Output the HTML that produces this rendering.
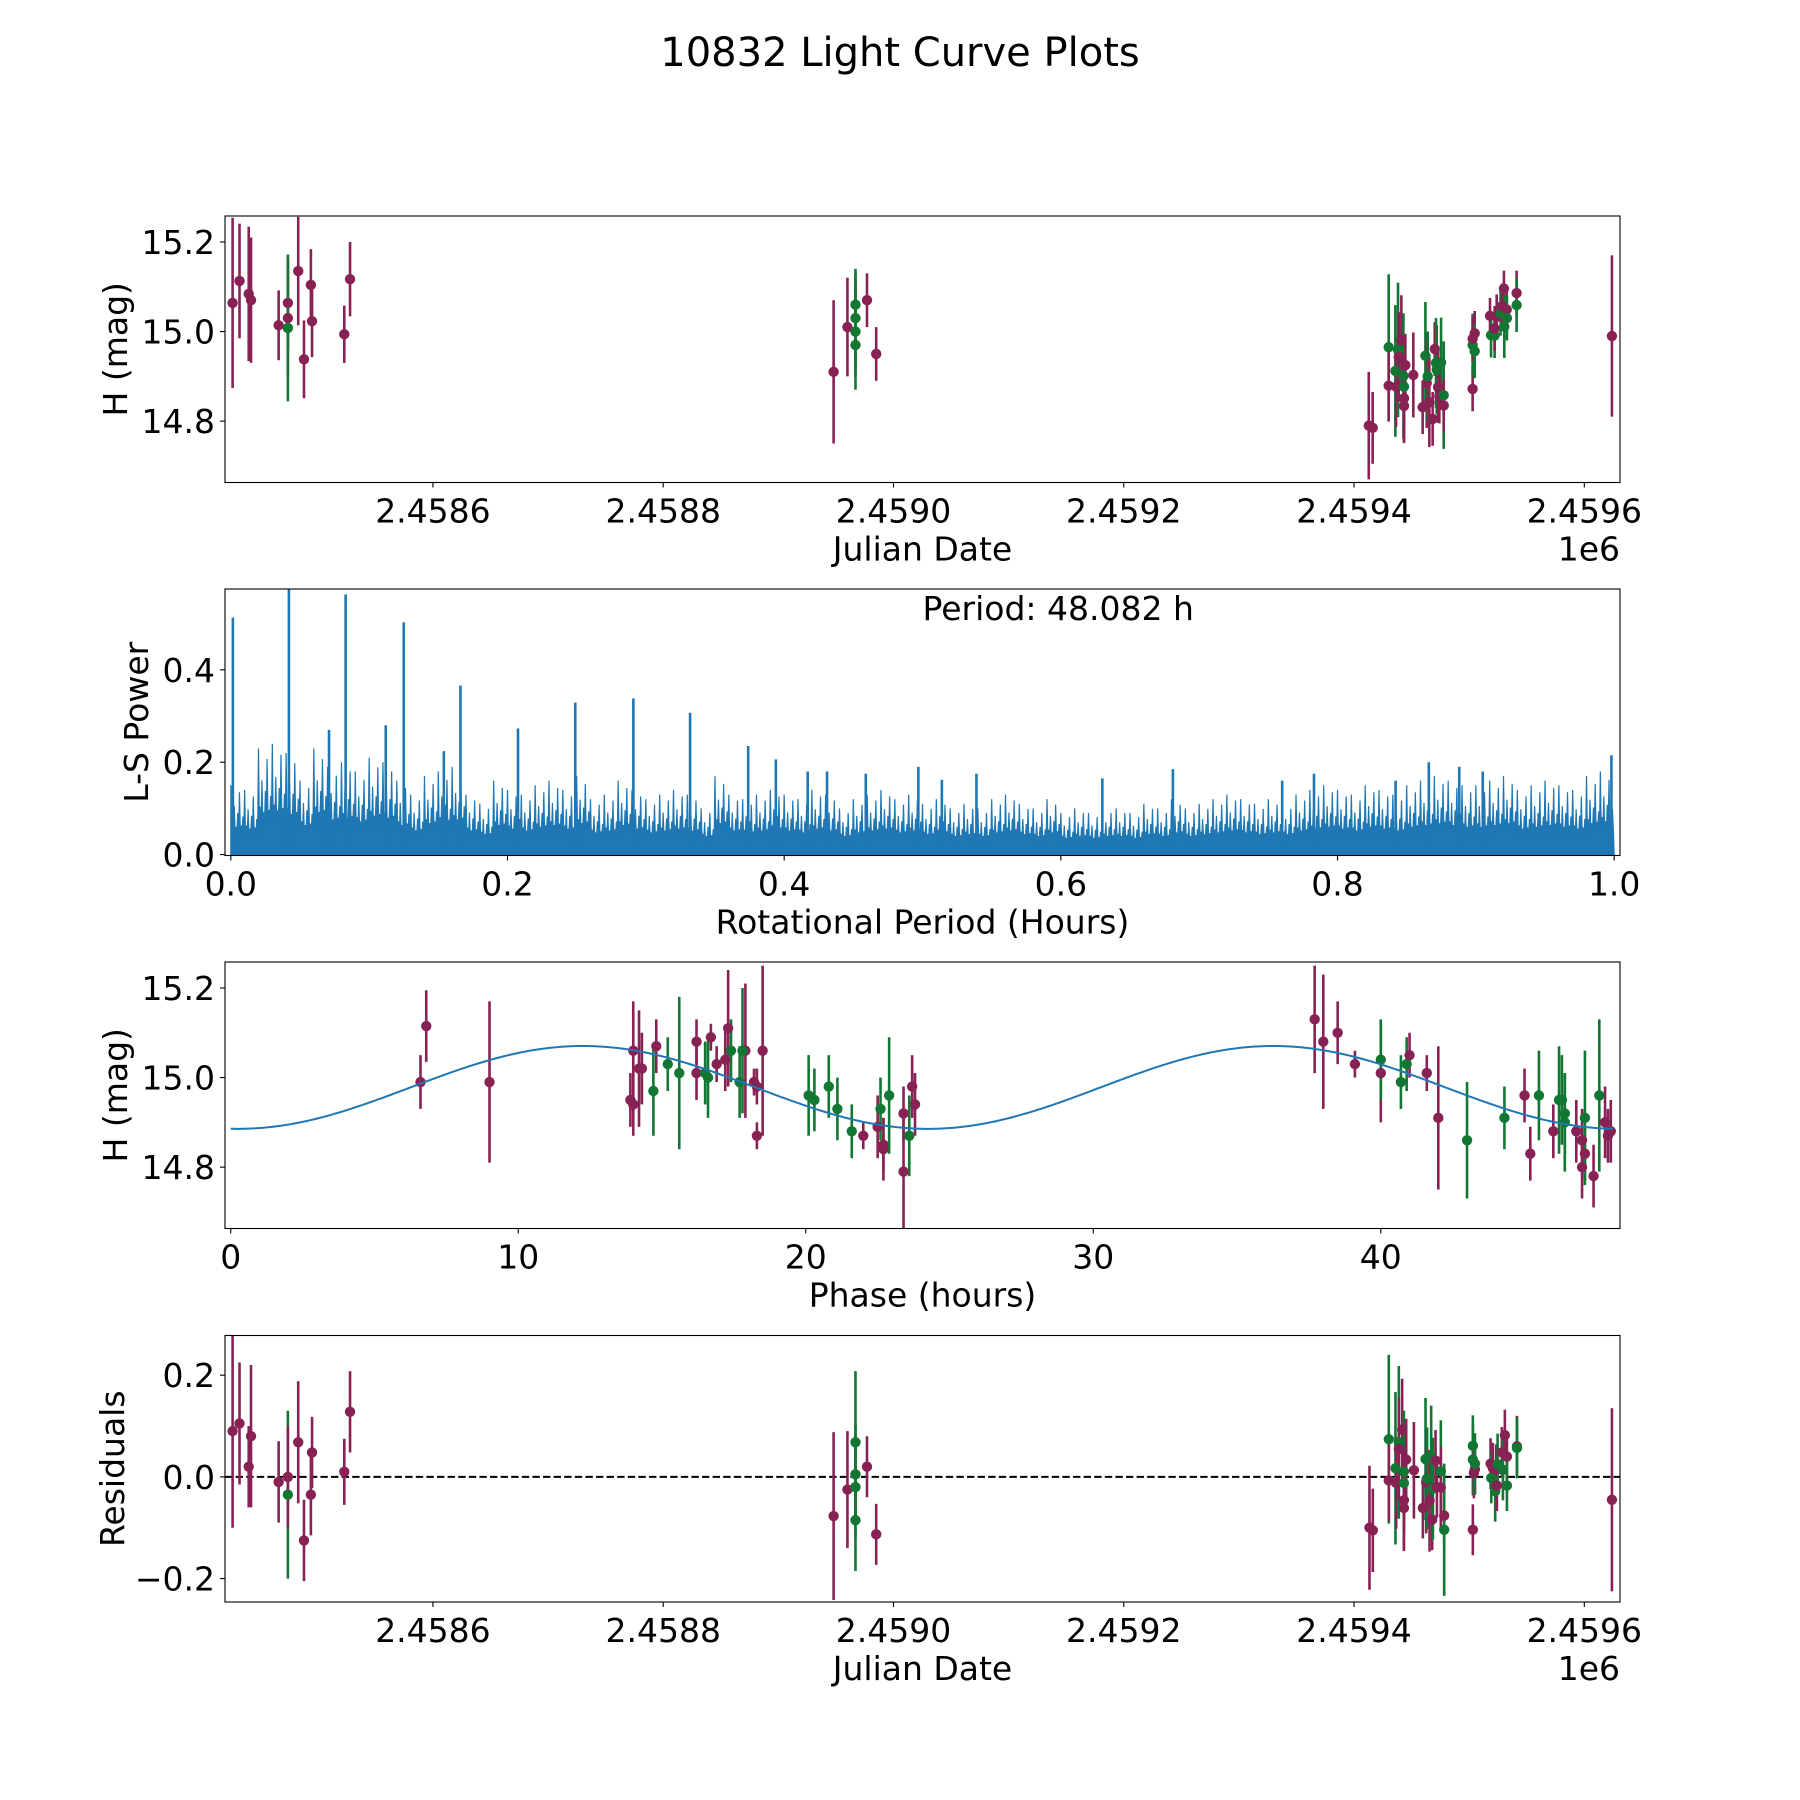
<!DOCTYPE html>
<html><head><meta charset="utf-8"><style>
html,body{margin:0;padding:0;background:#fff}
svg{display:block}
text{font-family:"DejaVu Sans","Liberation Sans",sans-serif;fill:#000}
</style></head><body>
<svg id="fig" width="1800" height="1800" viewBox="0 0 1800 1800" xmlns="http://www.w3.org/2000/svg">
<text x="900" y="66" font-size="40" text-anchor="middle">10832 Light Curve Plots</text>
</svg>
<script>
// ---------- Panel 1: light curve vs Julian Date (JD - 2458000) ----------
const p1Jd  = [426,432,440,442,466,474,474,474,483,488,494,495,523,528,
  948,960,967,967,967,967,977,985,
  1412.8,1416.2,1430.1,1430.1,1435.9,1436.5,1438.2,1438.8,1441.1,1442.9,1443.4,1443.4,1443.4,1444.6,1451.5,1459.6,1462,1463.1,1464,1465.4,1468.3,1470.1,1471.2,1471.8,1473,1475.6,1474.1,1477.9,1477.9,
  1503,1503,1503,1504.8,1504.8,1518.1,1519,1522.1,1522.1,1523.9,1527.3,1528.5,1530.2,1530.5,1532.6,1532.8,1541.2,1541.2,1624];
const p1Mag = [15.064,15.113,15.084,15.070,15.014,15.064,15.030,15.008,15.135,14.938,15.104,15.023,14.994,15.117,
  14.91,15.01,15.06,15.03,15.0,14.97,15.07,14.95,
  14.790,14.785,14.965,14.879,14.912,14.877,14.959,14.943,14.981,14.901,14.877,14.851,14.834,14.925,14.903,14.831,14.946,14.885,14.900,14.842,14.805,14.961,14.930,14.915,14.876,14.931,14.855,14.858,14.835,
  14.872,14.970,14.984,14.996,14.956,15.035,14.992,14.991,15.007,15.033,15.041,15.057,15.096,15.011,15.049,15.030,15.086,15.059,14.99];
const p1Err = [0.19,0.128,0.15,0.14,0.078,0.1,0.13,0.164,0.121,0.087,0.08,0.08,0.064,0.083,
  0.16,0.11,0.08,0.1,0.1,0.1,0.06,0.06,
  0.12,0.08,0.163,0.08,0.147,0.09,0.15,0.1,0.1,0.14,0.1,0.1,0.08,0.07,0.095,0.06,0.12,0.1,0.1,0.1,0.06,0.06,0.1,0.1,0.08,0.1,0.06,0.12,0.06,
  0.05,0.07,0.05,0.05,0.06,0.04,0.05,0.05,0.05,0.05,0.05,0.05,0.04,0.07,0.05,0.05,0.05,0.06,0.18];
const p1Col = ["p","p","p","p","p","p","p","g","p","p","p","p","p","p",
  "p","p","g","g","g","g","p","p",
  "p","p","g","p","g","p","g","p","p","g","g","p","p","p","p","p","g","p","g","p","p","p","g","g","p","g","p","g","p",
  "p","g","p","p","g","p","g","g","p","p","g","p","p","g","p","g","p","g","p"];

// ---------- Panel 2: Lomb-Scargle periodogram ----------
const lsEnvelope = [0.15,0.14,0.23,0.24,0.22,0.16,0.23,0.19,0.20,0.18,
  0.21,0.20,0.16,0.13,0.17,0.18,0.19,0.13,0.11,0.16,
  0.14,0.13,0.15,0.16,0.14,0.17,0.12,0.13,0.16,0.14,
  0.12,0.13,0.14,0.13,0.10,0.17,0.13,0.12,0.13,0.14,
  0.13,0.12,0.14,0.13,0.10,0.12,0.13,0.14,0.12,0.13,
  0.11,0.12,0.10,0.11,0.10,0.12,0.13,0.11,0.10,0.12,
  0.09,0.10,0.09,0.10,0.10,0.09,0.11,0.10,0.12,0.10,
  0.11,0.12,0.13,0.12,0.11,0.12,0.11,0.13,0.14,0.15,
  0.14,0.13,0.15,0.14,0.13,0.15,0.16,0.17,0.16,0.15,
  0.15,0.16,0.17,0.14,0.15,0.16,0.15,0.14,0.17,0.18];
const lsSpikePeriod = [0.0015,0.042,0.083,0.125,0.166,0.2076,0.249,0.291,0.332,0.374,0.071,0.112,0.154,0.394,0.417,0.431,0.459,0.497,0.514,0.539,0.63,0.681,0.76,0.783,0.842,0.866,0.888,0.905,0.998];
const lsSpikePower  = [0.513,0.58,0.563,0.503,0.366,0.273,0.329,0.338,0.307,0.235,0.27,0.28,0.224,0.206,0.18,0.18,0.175,0.19,0.162,0.175,0.165,0.185,0.16,0.175,0.16,0.2,0.19,0.18,0.215];
const periodLabel = "Period: 48.082 h";

// ---------- Panel 3: phased light curve ----------
const p3Phase = [6.6,6.8,9.0,13.9,14.0,14.0,14.2,14.3,14.7,14.8,15.2,15.6,16.2,16.2,16.5,16.6,16.7,16.9,17.2,17.3,17.4,17.7,17.9,17.8,18.2,18.3,18.3,18.5,
  20.1,20.3,20.8,21.1,21.6,22.0,22.5,22.6,22.7,22.7,22.9,23.4,23.4,23.6,23.7,23.8,
  37.7,38.0,38.5,39.1,40.0,40.0,40.7,40.9,41.0,41.6,42.0,43.0,44.3,45.0,45.2,45.5,46.0,46.2,46.3,46.4,46.4,46.8,47.0,47.1,47.1,47.0,47.4,47.6,47.8,47.9,48.0];
const p3Mag = [14.99,15.115,14.99,14.95,14.94,15.06,15.02,15.02,14.97,15.07,15.03,15.01,15.08,15.01,15.01,15.0,15.09,15.03,15.04,15.11,15.06,14.99,15.06,15.06,14.99,14.98,14.87,15.06,
  14.96,14.95,14.98,14.93,14.88,14.87,14.89,14.93,14.84,14.85,14.96,14.92,14.79,14.87,14.98,14.94,
  15.13,15.08,15.10,15.03,15.01,15.04,14.99,15.03,15.05,15.01,14.91,14.86,14.91,14.96,14.83,14.96,14.88,14.95,14.95,14.92,14.90,14.88,14.86,14.83,14.91,14.80,14.78,14.96,14.90,14.87,14.88];
const p3Err = [0.06,0.08,0.18,0.06,0.07,0.11,0.13,0.08,0.10,0.06,0.06,0.17,0.05,0.06,0.07,0.09,0.03,0.04,0.07,0.13,0.07,0.08,0.15,0.14,0.03,0.04,0.03,0.19,
  0.09,0.07,0.07,0.07,0.06,0.03,0.07,0.07,0.07,0.06,0.13,0.06,0.13,0.09,0.07,0.07,
  0.12,0.15,0.07,0.03,0.11,0.09,0.06,0.06,0.05,0.04,0.16,0.13,0.07,0.06,0.06,0.10,0.06,0.12,0.10,0.09,0.11,0.07,0.07,0.06,0.15,0.07,0.07,0.17,0.08,0.06,0.07];
const p3Col = ["p","p","p","p","p","p","p","p","g","p","g","g","p","p","g","g","p","p","p","p","g","g","p","g","p","p","p","p",
  "g","g","g","g","g","p","p","g","p","p","g","p","p","g","p","p",
  "p","p","p","p","p","g","g","g","p","p","p","g","g","p","p","g","p","g","g","g","g","p","p","p","g","p","p","g","p","p","p"];
const modelMean = 14.978, modelAmp = 0.0925, modelPeriod = 24.0, modelShift = 0.25;

// ---------- Panel 4: residuals ----------
const p4Jd  = [426,432,440,442,466,474,474,483,488,494,495,523,528,
  948,960,967,967,967,967,977,985,
  1413.4,1416.3,1430.2,1430.2,1436,1436.6,1438.9,1438.9,1441.8,1443.3,1443.3,1443.3,1443.3,1445.3,1452,1459.8,1462.1,1462.7,1463.5,1465.6,1467,1467.9,1468.5,1470.8,1472,1475.4,1475.4,1478.3,1478.3,
  1503.2,1503.2,1503.2,1504.1,1505,1505,1518.6,1519.2,1520.6,1523.5,1522.6,1524.1,1524.7,1528.4,1529.3,1531,1532.8,1532.8,1541.5,1541.5,1624];
const p4Res = [0.09,0.105,0.02,0.08,-0.01,-0.035,0.0,0.068,-0.125,-0.035,0.048,0.01,0.128,
  -0.077,-0.025,0.068,0.005,-0.02,-0.085,0.02,-0.113,
  -0.100,-0.105,0.074,-0.007,0.017,-0.012,0.068,0.055,0.093,0.01,-0.012,-0.046,-0.061,0.034,0.013,-0.061,0.035,-0.011,-0.003,-0.047,0.04,-0.084,-0.023,0.032,-0.02,0.011,-0.021,-0.076,-0.104,
  -0.104,0.061,0.034,0.008,0.015,0.026,0.026,-0.002,0.017,0.014,-0.028,-0.017,0.025,0.048,0.014,0.082,0.04,-0.017,0.06,0.057,-0.045];
const p4Err = [0.19,0.12,0.08,0.14,0.08,0.165,0.1,0.12,0.08,0.08,0.07,0.065,0.08,
  0.165,0.115,0.14,0.1,0.1,0.1,0.06,0.06,
  0.122,0.082,0.166,0.08,0.15,0.09,0.15,0.1,0.1,0.12,0.1,0.1,0.08,0.08,0.095,0.06,0.12,0.1,0.1,0.1,0.1,0.06,0.1,0.06,0.06,0.1,0.08,0.06,0.13,
  0.05,0.06,0.07,0.05,0.05,0.06,0.05,0.05,0.05,0.05,0.06,0.05,0.06,0.05,0.06,0.05,0.05,0.05,0.06,0.06,0.18];
const p4Col = ["p","p","p","p","p","g","p","p","p","p","p","p","p",
  "p","p","g","g","g","g","p","p",
  "p","p","g","p","g","p","g","p","p","g","g","p","p","p","p","p","g","p","g","p","g","p","g","p","p","g","p","p","g",
  "p","g","g","p","p","g","p","g","p","p","g","p","g","p","g","p","p","g","p","g",
  "p"];

// ---------- drawing ----------
const NS = "http://www.w3.org/2000/svg";
const svg = document.getElementById("fig");
const COL = {p:"#882255", g:"#117733"};
const AX_L = 225, AX_W = 1395, AX_H = 266.5;
const TOPS = [216, 589, 962, 1335.5];
const FS = 33;
function mk(tag, attrs, parent){
  const e = document.createElementNS(NS, tag);
  for (const k in attrs) e.setAttribute(k, attrs[k]);
  (parent||svg).appendChild(e);
  return e;
}
function makeAxes(i, xlim, ylim){
  const top = TOPS[i];
  const sx = v => AX_L + (v - xlim[0]) / (xlim[1] - xlim[0]) * AX_W;
  const sy = v => top + AX_H - (v - ylim[0]) / (ylim[1] - ylim[0]) * AX_H;
  const g = mk("g", {});
  
  
  const cid = "clip" + i;
  const cp = mk("clipPath", {id: cid}, g);
  mk("rect", {x: AX_L, y: top, width: AX_W, height: AX_H}, cp);
  const plot = mk("g", {"clip-path": "url(#" + cid + ")"}, g);
  
  
  return {g, plot, sx, sy, top};
}
function frame(a, xticks, xlabels, yticks, ylabels, xtitle, ytitle, ytitleX, offText){
  const bottom = a.top + AX_H;
  const fr = mk("rect", {x: AX_L, y: a.top, width: AX_W, height: AX_H, fill: "none", stroke: "#000", "stroke-width": 1.1}, a.g);
  
  
  xticks.forEach((v, k) => {
    const x = a.sx(v);
    const t = mk("line", {x1: x, x2: x, y1: bottom, y2: bottom + 5, stroke: "#000", "stroke-width": 1.1}, a.g);
    
    
    const lb = mk("text", {x: x, y: bottom + 40, "font-size": FS, "text-anchor": "middle"}, a.g);
    lb.textContent = xlabels[k];
    
    
  });
  yticks.forEach((v, k) => {
    const y = a.sy(v);
    const t = mk("line", {x1: AX_L - 5, x2: AX_L, y1: y, y2: y, stroke: "#000", "stroke-width": 1.1}, a.g);
    
    
    const lb = mk("text", {x: AX_L - 10, y: y + 12, "font-size": FS, "text-anchor": "end"}, a.g);
    lb.textContent = ylabels[k];
    
    
  });
  const xt = mk("text", {x: AX_L + AX_W/2, y: bottom + 78, "font-size": FS, "text-anchor": "middle"}, a.g);
  xt.textContent = xtitle;
  
  
  const cy = a.top + AX_H/2;
  const yt = mk("text", {x: ytitleX, y: cy, "font-size": FS, "text-anchor": "middle", transform: "rotate(-90 " + ytitleX + " " + cy + ")"}, a.g);
  yt.textContent = ytitle;
  
  
  if (offText){
    const o = mk("text", {x: AX_L + AX_W, y: bottom + 78, "font-size": FS, "text-anchor": "end"}, a.g);
    o.textContent = offText;
    
    
  }
}
function errPoints(a, xs, ys, es, cols){
  for (let i = 0; i < xs.length; i++){
    const c = COL[cols[i]] || COL.p;
    const x = a.sx(xs[i]);
    const bar = mk("line", {x1: x, x2: x, y1: a.sy(ys[i] + es[i]), y2: a.sy(ys[i] - es[i]), stroke: c, "stroke-width": 2.6}, a.plot);
    
    
  }
  for (let i = 0; i < xs.length; i++){
    const c = COL[cols[i]] || COL.p;
    const dot = mk("circle", {cx: a.sx(xs[i]), cy: a.sy(ys[i]), r: 5.2, fill: c}, a.plot);
    
    
  }
}
const jdTicks = [600, 800, 1000, 1200, 1400, 1600];
const jdLabels = ["2.4586","2.4588","2.4590","2.4592","2.4594","2.4596"];
const JDLIM = [419.4, 1631];

// Panel 1
const a1 = makeAxes(0, JDLIM, [14.663, 15.258]);
errPoints(a1, p1Jd, p1Mag, p1Err, p1Col);
frame(a1, jdTicks, jdLabels, [14.8, 15.0, 15.2], ["14.8","15.0","15.2"], "Julian Date", "H (mag)", 127, "1e6");

// Panel 2
const a2 = makeAxes(1, [-0.0042, 1.0042], [-0.002, 0.575]);
const pattern = [1, 0.45, 0.7, 0.4, 0.6, 0.9, 0.42, 0.55];
let d = "M" + a2.sx(0) + " " + a2.sy(0);
for (let b = 0; b < lsEnvelope.length; b++){
  for (let k = 0; k < pattern.length; k++){
    const p = (b + k / pattern.length) / lsEnvelope.length;
    d += " L" + a2.sx(p).toFixed(2) + " " + a2.sy(lsEnvelope[b] * pattern[k]).toFixed(2);
    d += " L" + a2.sx(p + 0.5 / (pattern.length * lsEnvelope.length)).toFixed(2) + " " + a2.sy(lsEnvelope[b] * 0.3).toFixed(2);
  }
}
d += " L" + a2.sx(1) + " " + a2.sy(0) + " Z";
const ls = mk("path", {d: d, fill: "#1f77b4", stroke: "#1f77b4", "stroke-width": 1.2}, a2.plot);


for (let i = 0; i < lsSpikePeriod.length; i++){
  const x = a2.sx(lsSpikePeriod[i]);
  const s = mk("line", {x1: x, x2: x, y1: a2.sy(0), y2: a2.sy(lsSpikePower[i]), stroke: "#1f77b4", "stroke-width": 2.6}, a2.plot);
  
  
}
const pl = mk("text", {x: a2.sx(0.5), y: a2.top + 31, "font-size": FS}, a2.g);
pl.textContent = periodLabel;


frame(a2, [0,0.2,0.4,0.6,0.8,1.0], ["0.0","0.2","0.4","0.6","0.8","1.0"], [0,0.2,0.4], ["0.0","0.2","0.4"], "Rotational Period (Hours)", "L-S Power", 148);

// Panel 3
const a3 = makeAxes(2, [-0.2, 48.32], [14.663, 15.258]);
errPoints(a3, p3Phase, p3Mag, p3Err, p3Col);
let cd = "";
for (let k = 0; k <= 480; k++){
  const t = k * 48.08 / 480;
  const m = modelMean - modelAmp * Math.cos(2 * Math.PI * (t - modelShift) / modelPeriod);
  cd += (k ? " L" : "M") + a3.sx(t).toFixed(2) + " " + a3.sy(m).toFixed(2);
}
const cv = mk("path", {d: cd, fill: "none", stroke: "#1f77b4", "stroke-width": 2}, a3.plot);


frame(a3, [0,10,20,30,40], ["0","10","20","30","40"], [14.8,15.0,15.2], ["14.8","15.0","15.2"], "Phase (hours)", "H (mag)", 127);

// Panel 4
const a4 = makeAxes(3, JDLIM, [-0.246, 0.278]);
const zl = mk("line", {x1: AX_L, x2: AX_L + AX_W, y1: a4.sy(0), y2: a4.sy(0), stroke: "#000", "stroke-width": 2, "stroke-dasharray": "7.4 3.2"}, a4.plot);


errPoints(a4, p4Jd, p4Res, p4Err, p4Col);
frame(a4, jdTicks, jdLabels, [-0.2, 0, 0.2], ["\u22120.2","0.0","0.2"], "Julian Date", "Residuals", 124, "1e6");
</script>
</body></html>
